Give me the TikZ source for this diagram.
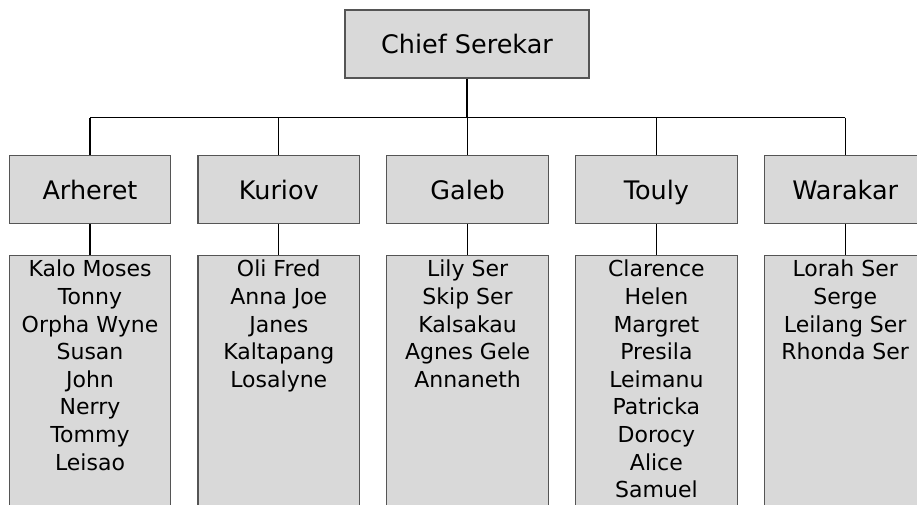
\documentclass[tikz,border=0pt]{standalone}
\usepackage{fontspec}
\setmainfont{DejaVu Sans}
\definecolor{boxfill}{HTML}{D9D9D9}
\definecolor{boxline}{HTML}{555555}
\begin{document}
\begin{tikzpicture}[x=1pt,y=-1pt,
  box/.style={draw=boxline, fill=boxfill, line width=1.2pt,
    minimum width=161.5pt, minimum height=68pt, inner sep=0pt,
    text height=22pt, text depth=3pt,
    font=\fontsize{25.5}{30}\selectfont},
  listbox/.style={draw=boxline, fill=boxfill, line width=1.2pt,
    minimum width=161.5pt, minimum height=300pt, inner sep=0pt, anchor=north},
  names/.style={align=center, anchor=north, inner sep=0pt,
    font=\fontsize{22}{27.6}\selectfont},
  link/.style={draw=black, line width=1.1pt}]
\useasboundingbox (0,0) rectangle (917,504);

% top of the chart
\node[box, minimum width=244pt] (chief) at (467,44) {Chief Serekar};
\coordinate (bus) at (0,117.7);

% second level and their member lists
\foreach \id/\x/\title/\members in {
  ar/90/Arheret/{Kalo Moses\\Tonny\\Orpha Wyne\\Susan\\John\\Nerry\\Tommy\\Leisao},
  ku/278.8/Kuriov/{Oli Fred\\Anna Joe\\Janes\\Kaltapang\\Losalyne},
  ga/467.6/Galeb/{Lily Ser\\Skip Ser\\Kalsakau\\Agnes Gele\\Annaneth},
  to/656.4/Touly/{Clarence\\Helen\\Margret\\Presila\\Leimanu\\Patricka\\Dorocy\\Alice\\Samuel},
  wa/845.2/Warakar/{Lorah Ser\\Serge\\Leilang Ser\\Rhonda Ser}}{
  \node[box] (\id) at (\x,189.7) {\title};
  \node[listbox] (\id list) at (\x,254.5) {};
  \node[names] (\id names) at (\x,260) {\members};
  \draw[link] (\id.north |- bus) -- (\id.north);
  \draw[link] (\id.south) -- (\id list.north);
}

\draw[link] (chief.south) -- (chief.south |- bus);
\draw[link] (ar.north |- bus) -- (wa.north |- bus);
\end{tikzpicture}
\end{document}
